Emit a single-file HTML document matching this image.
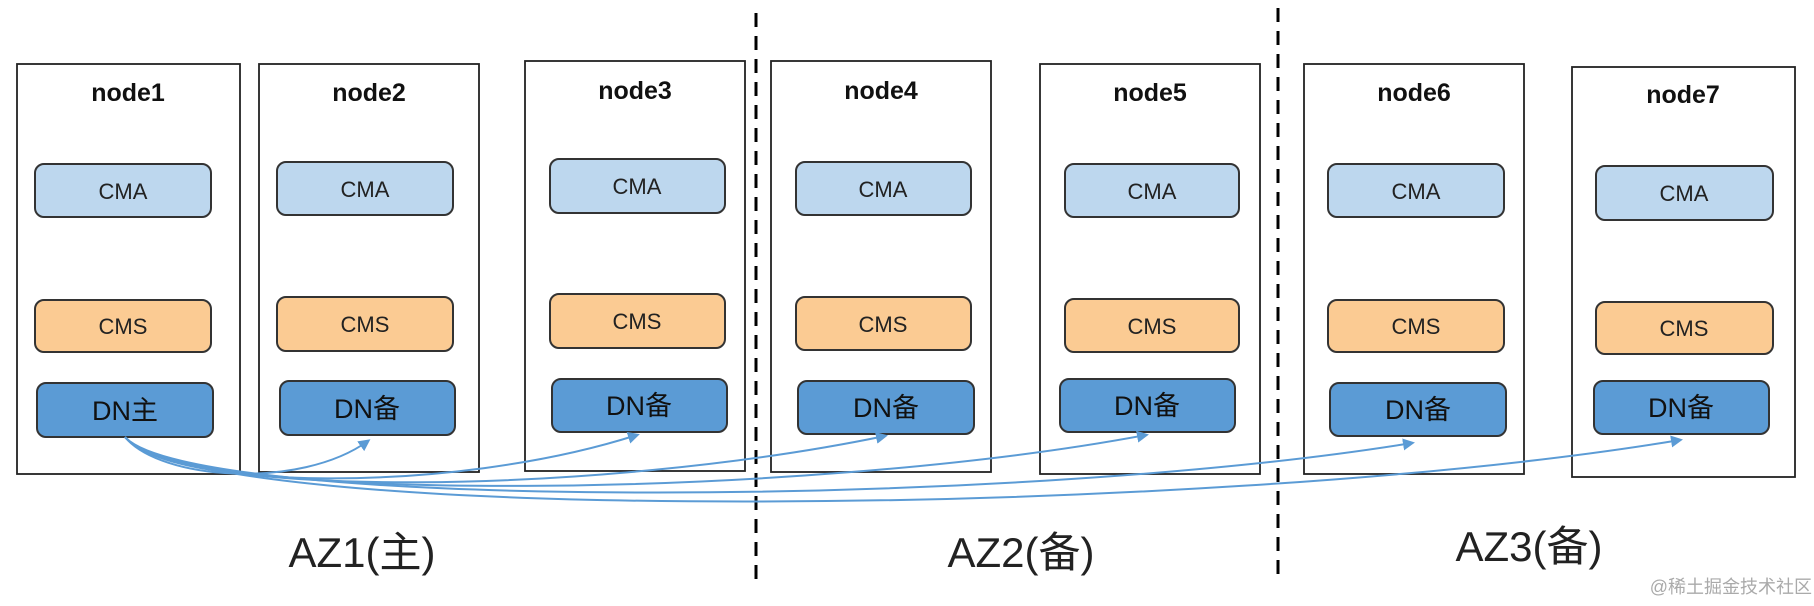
<!DOCTYPE html>
<html><head><meta charset="utf-8"><style>
body{margin:0;background:#fff;}
svg text{font-family:"Liberation Sans","Noto Sans CJK SC",sans-serif;}
</style></head><body>
<svg width="1814" height="601" viewBox="0 0 1814 601" xmlns="http://www.w3.org/2000/svg">
<defs><marker id="a" markerWidth="12" markerHeight="12" refX="9" refY="6" orient="auto" markerUnits="userSpaceOnUse"><path d="M0,0 L12,6 L0,12 Z" fill="#5b9bd5"/></marker></defs>
<g stroke="#000" stroke-width="3" stroke-dasharray="14,9"><line x1="756" y1="13" x2="756" y2="582"/><line x1="1278" y1="8" x2="1278" y2="578"/></g>
<g fill="none" stroke="#222" stroke-width="1.8">
<rect x="17" y="64" width="223" height="410"/>
<rect x="259" y="64" width="220" height="408"/>
<rect x="525" y="61" width="220" height="410"/>
<rect x="771" y="61" width="220" height="411"/>
<rect x="1040" y="64" width="220" height="410"/>
<rect x="1304" y="64" width="220" height="410"/>
<rect x="1572" y="67" width="223" height="410"/>
</g>
<g font-size="25" font-weight="bold" text-anchor="middle" fill="#111">
<text x="128" y="101">node1</text><text x="369" y="101">node2</text><text x="635" y="99">node3</text><text x="881" y="99">node4</text><text x="1150" y="101">node5</text><text x="1414" y="101">node6</text><text x="1683" y="103">node7</text>
</g>
<g stroke="#333" stroke-width="2">
<g fill="#bdd7ee">
<rect x="35" y="164" width="176" height="53" rx="9"/><rect x="277" y="162" width="176" height="53" rx="9"/><rect x="550" y="159" width="175" height="54" rx="9"/><rect x="796" y="162" width="175" height="53" rx="9"/><rect x="1065" y="164" width="174" height="53" rx="9"/><rect x="1328" y="164" width="176" height="53" rx="9"/><rect x="1596" y="166" width="177" height="54" rx="9"/>
</g>
<g fill="#fbcb93">
<rect x="35" y="300" width="176" height="52" rx="9"/><rect x="277" y="297" width="176" height="54" rx="9"/><rect x="550" y="294" width="175" height="54" rx="9"/><rect x="796" y="297" width="175" height="53" rx="9"/><rect x="1065" y="299" width="174" height="53" rx="9"/><rect x="1328" y="300" width="176" height="52" rx="9"/><rect x="1596" y="302" width="177" height="52" rx="9"/>
</g>
<g fill="#5b9bd5">
<rect x="37" y="383" width="176" height="54" rx="9"/><rect x="280" y="381" width="175" height="54" rx="9"/><rect x="552" y="379" width="175" height="53" rx="9"/><rect x="798" y="381" width="176" height="53" rx="9"/><rect x="1060" y="379" width="175" height="53" rx="9"/><rect x="1330" y="383" width="176" height="53" rx="9"/><rect x="1594" y="381" width="175" height="53" rx="9"/>
</g>
</g>
<g font-size="22" text-anchor="middle" fill="#222">
<text x="123" y="199">CMA</text><text x="365" y="197">CMA</text><text x="637" y="194">CMA</text><text x="883" y="197">CMA</text><text x="1152" y="199">CMA</text><text x="1416" y="199">CMA</text><text x="1684" y="201">CMA</text>
<text x="123" y="334">CMS</text><text x="365" y="332">CMS</text><text x="637" y="329">CMS</text><text x="883" y="332">CMS</text><text x="1152" y="334">CMS</text><text x="1416" y="334">CMS</text><text x="1684" y="336">CMS</text>
</g>
<g font-size="27" text-anchor="middle" fill="#111">
<text x="125" y="420">DN主</text><text x="367" y="418">DN备</text><text x="639" y="415">DN备</text><text x="886" y="417">DN备</text><text x="1147" y="415">DN备</text><text x="1418" y="419">DN备</text><text x="1681" y="417">DN备</text>
</g>
<g fill="none" stroke="#5b9bd5" stroke-width="2" marker-end="url(#a)">
<path d="M125 437 C160 480 300 490 368 441"/>
<path d="M125 437 C170 490 450 495 637 435"/>
<path d="M125 437 C180 500 600 495 885 436"/>
<path d="M125 437 C180 505 800 500 1146 435"/>
<path d="M125 437 C190 510 1000 510 1412 443"/>
<path d="M125 437 C200 525 1200 520 1680 440"/>
</g>
<g font-size="42" text-anchor="middle" fill="#222">
<text x="362" y="567">AZ1(主)</text><text x="1021" y="567">AZ2(备)</text><text x="1529" y="561">AZ3(备)</text>
</g>
<text x="1812" y="593" font-size="18" text-anchor="end" fill="#aaa">@稀土掘金技术社区</text>
</svg>
</body></html>
